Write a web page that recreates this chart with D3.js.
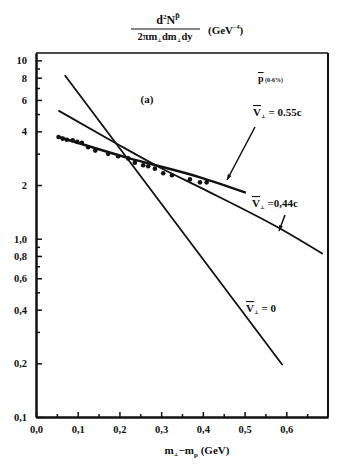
<!DOCTYPE html>
<html><head><meta charset="utf-8">
<script src="https://cdn.jsdelivr.net/npm/d3@7"></script>
<style>
body{margin:0;background:#fff;}
text{font-family:"Liberation Serif","DejaVu Serif",serif;font-weight:bold;fill:#111;}
</style></head>
<body><svg id="c" width="341" height="470"></svg>
<script>
// ---- data ----
const xMajorTicks = [0, 0.1, 0.2, 0.3, 0.4, 0.5, 0.6];
const xMinorTicks = [0.05, 0.15, 0.25, 0.35, 0.45, 0.55, 0.65];
const yMajorTicks = [0.1, 0.2, 0.4, 0.6, 0.8, 1, 2, 4, 6, 8, 10];
const yMajorLabels = ["0,1", "0,2", "0,4", "0,6", "0,8", "1,0", "2", "4", "6", "8", "10"];
const yMinorTicks = [0.3, 0.5, 0.7, 0.9, 3, 5, 7, 9];
const xTickLabels = ["0,0", "0,1", "0,2", "0,3", "0,4", "0,5", "0,6"];

const dataX = [0.054, 0.064, 0.074, 0.088, 0.099, 0.110, 0.125, 0.142, 0.173, 0.197, 0.221, 0.237, 0.257, 0.269, 0.285, 0.305, 0.326, 0.369, 0.393, 0.409];
const dataY = [3.72, 3.64, 3.59, 3.56, 3.49, 3.45, 3.26, 3.12, 2.99, 2.90, 2.82, 2.67, 2.58, 2.55, 2.47, 2.33, 2.27, 2.15, 2.07, 2.07];

const v0X = [0.07, 0.59];
const v0Y = [8.2, 0.197];
const v044X = [0.055, 0.185, 0.297, 0.393, 0.585, 0.686];
const v044Y = [5.21, 3.50, 2.51, 1.94, 1.14, 0.826];
const v055X = [0.053, 0.218, 0.393, 0.501];
const v055Y = [3.73, 2.85, 2.21, 1.82];

// ---- chart ----
const svg = d3.select("#c");
const L = 36, R = 328, T = 53, B = 417;
const x = d3.scaleLinear().domain([0, 0.7]).range([L, R]);
const y = d3.scaleLog().domain([0.1, 11]).range([B, T]);
const ink = "#111";

// y axis
const yAx = svg.append("g").attr("transform", `translate(${L},0)`)
  .call(d3.axisLeft(y).tickValues(yMajorTicks).tickSizeInner(-6).tickSizeOuter(0).tickPadding(9)
    .tickFormat((d, i) => yMajorLabels[i]));
const yAxMin = svg.append("g").attr("transform", `translate(${L},0)`)
  .call(d3.axisLeft(y).tickValues(yMinorTicks).tickSizeInner(-4).tickSizeOuter(0).tickFormat(""));
// x axis
const xAx = svg.append("g").attr("transform", `translate(0,${B})`)
  .call(d3.axisBottom(x).tickValues(xMajorTicks).tickSizeInner(-5).tickSizeOuter(0).tickPadding(9)
    .tickFormat((d, i) => xTickLabels[i]));
const xAxMin = svg.append("g").attr("transform", `translate(0,${B})`)
  .call(d3.axisBottom(x).tickValues(xMinorTicks).tickSizeInner(-3).tickSizeOuter(0).tickFormat(""));
[yAx, yAxMin, xAx, xAxMin].forEach(g => {
  g.select(".domain").attr("stroke", ink).attr("stroke-width", 2);
  g.selectAll(".tick line").attr("stroke", ink).attr("stroke-width", 1.5);
  g.selectAll("text").attr("font-size", 10.5).attr("font-family", "Liberation Serif, serif").attr("font-weight", "bold").attr("fill", ink);
});
// frame top/right
svg.append("line").attr("x1", L).attr("x2", R).attr("y1", T).attr("y2", T).attr("stroke", ink).attr("stroke-width", 1.5);
svg.append("line").attr("x1", R).attr("x2", R).attr("y1", T).attr("y2", B).attr("stroke", ink).attr("stroke-width", 2);

// lines
const lineGen = d3.line().curve(d3.curveMonotoneX);
function drawLine(xs, ys, w) {
  svg.append("path").attr("d", lineGen(xs.map((v, i) => [x(v), y(ys[i])])))
    .attr("fill", "none").attr("stroke", ink).attr("stroke-width", w).attr("stroke-linecap", "round");
}
drawLine(v0X, v0Y, 1.8);
drawLine(v044X, v044Y, 1.8);
drawLine(v055X, v055Y, 2.4);

// data points
svg.append("g").selectAll("circle").data(dataX).join("circle")
  .attr("cx", d => x(d)).attr("cy", (d, i) => y(dataY[i])).attr("r", 2.3).attr("fill", ink);

// arrows
function arrow(x1, y1, x2, y2) {
  svg.append("line").attr("x1", x1).attr("y1", y1).attr("x2", x2).attr("y2", y2)
    .attr("stroke", ink).attr("stroke-width", 1.5);
  const a = Math.atan2(y2 - y1, x2 - x1), s = 6;
  const p = [[x2, y2], [x2 - s * Math.cos(a - 0.35), y2 - s * Math.sin(a - 0.35)], [x2 - s * Math.cos(a + 0.35), y2 - s * Math.sin(a + 0.35)]];
  svg.append("path").attr("d", "M" + p.join("L") + "Z").attr("fill", ink);
}
arrow(255, 127, 227, 180);
arrow(285, 215, 279, 231);

// labels
function vlabel(xp, yp, txt) {
  const t = svg.append("text").attr("x", xp).attr("y", yp).attr("font-size", 11);
  t.append("tspan").text("V").attr("text-decoration", "overline");
  t.append("tspan").text("⊥").attr("font-size", 5).attr("dy", 2);
  t.append("tspan").text(txt).attr("dy", -2);
}
vlabel(253, 116, " = 0.55c");
vlabel(252, 207, " =0,44c");
vlabel(246, 312, " = 0");

const pl = svg.append("text").attr("x", 258).attr("y", 82).attr("font-size", 10);
pl.append("tspan").text("p").attr("text-decoration", "overline");
pl.append("tspan").text(" (0-6%)").attr("font-size", 6);

svg.append("text").attr("x", 147).attr("y", 103).attr("text-anchor", "middle").attr("font-size", 11).text("(a)");

// title fraction
const num = svg.append("text").attr("x", 168).attr("y", 24).attr("text-anchor", "middle").attr("font-size", 12);
num.append("tspan").text("d");
num.append("tspan").text("2").attr("font-size", 7).attr("dy", -5);
num.append("tspan").text("N").attr("dy", 5);
num.append("tspan").text("p̄").attr("font-size", 8).attr("dy", -6);
svg.append("line").attr("x1", 131).attr("x2", 200).attr("y1", 29).attr("y2", 29).attr("stroke", ink).attr("stroke-width", 1.2);
const den = svg.append("text").attr("x", 165).attr("y", 40).attr("text-anchor", "middle").attr("font-size", 10.5);
den.append("tspan").text("2πm");
den.append("tspan").text("⊥").attr("font-size", 5).attr("dy", 2);
den.append("tspan").text("dm").attr("dy", -2);
den.append("tspan").text("⊥").attr("font-size", 5).attr("dy", 2);
den.append("tspan").text("dy").attr("dy", -2);
const gev = svg.append("text").attr("x", 208).attr("y", 34).attr("font-size", 11);
gev.append("tspan").text("(GeV");
gev.append("tspan").text("−4").attr("font-size", 6).attr("dy", -5);
gev.append("tspan").text(")").attr("dy", 5);

// x axis title
const xt = svg.append("text").attr("x", 197).attr("y", 454).attr("text-anchor", "middle").attr("font-size", 11);
xt.append("tspan").text("m");
xt.append("tspan").text("⊥").attr("font-size", 5).attr("dy", 2);
xt.append("tspan").text("−m").attr("dy", -2);
xt.append("tspan").text("p").attr("font-size", 7).attr("dy", 3);
xt.append("tspan").text(" (GeV)").attr("dy", -3);
</script></body></html>
